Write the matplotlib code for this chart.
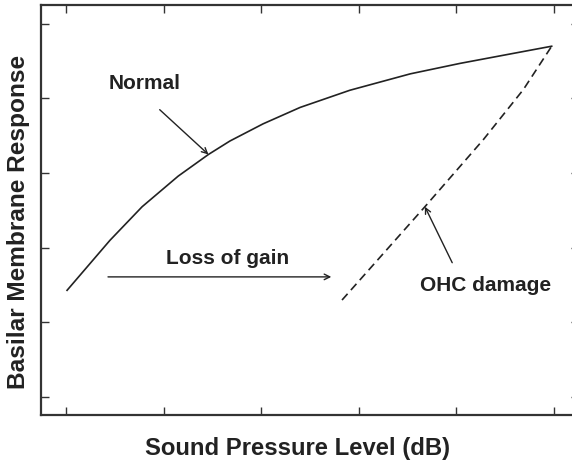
import numpy as np
import matplotlib
matplotlib.use("Agg")
import matplotlib.pyplot as plt

plt.rcParams['font.family'] = ['Liberation Sans', 'DejaVu Sans']

# normal basilar membrane input/output function (compressive)
normal_x = [0.01, 0.45, 0.78, 1.15, 1.46, 1.68, 2.02, 2.40, 2.91,
            3.53, 4.04, 4.55, 4.98]
normal_y = [1.43, 2.10, 2.55, 2.96, 3.25, 3.43, 3.66, 3.88, 4.11,
            4.33, 4.47, 4.595, 4.70]

# response after outer hair cell damage (steeper, shifted to the right)
ohc_x = [2.83, 3.68, 4.28, 4.69, 4.98]
ohc_y = [1.30, 2.55, 3.45, 4.12, 4.70]

tick_pos = [0, 1, 2, 3, 4, 5]

fig = plt.figure(figsize=(5.72, 4.61), dpi=100)
ax = fig.add_axes([0.0712, 0.0998, 0.941, 0.889])

ink = '#222222'
ax.plot(normal_x, normal_y, color=ink, lw=1.2, solid_joinstyle='round')
ax.plot(ohc_x, ohc_y, color=ink, lw=1.2, ls=(0, (5, 3)))

ax.set_xlim(-0.26, 5.26)
ax.set_ylim(-0.24, 5.25)
ax.set_xticks(tick_pos)
ax.set_yticks(tick_pos)
ax.tick_params(direction='in', length=6, width=1.0, colors='#333333',
               top=True, right=True, labelbottom=False, labelleft=False)
for side in ax.spines.values():
    side.set_linewidth(1.6)
    side.set_color('#333333')

ax.set_xlabel('Sound Pressure Level (dB)', fontsize=17.2, fontweight='bold',
              color=ink, labelpad=16)
ax.set_ylabel('Basilar Membrane Response', fontsize=17.6, fontweight='bold',
              color=ink, labelpad=8)
ax.xaxis.label.set_x(0.477)
ax.yaxis.label.set_y(0.471)

arrow = dict(arrowstyle='->', color=ink, lw=1.0, shrinkA=0, shrinkB=0)
note = dict(fontsize=15, fontweight='bold', color=ink, ha='center', va='center')

ax.text(0.81, 4.20, 'Normal', **note)
ax.annotate('', xy=(1.46, 3.25), xytext=(0.96, 3.85), arrowprops=arrow)

ax.text(1.66, 1.85, 'Loss of gain', **note)
ax.annotate('', xy=(2.72, 1.61), xytext=(0.43, 1.61), arrowprops=arrow)

ax.text(4.30, 1.50, 'OHC damage', **note)
ax.annotate('', xy=(3.68, 2.55), xytext=(3.96, 1.80), arrowprops=arrow)

fig.savefig('out.png', dpi=100)
